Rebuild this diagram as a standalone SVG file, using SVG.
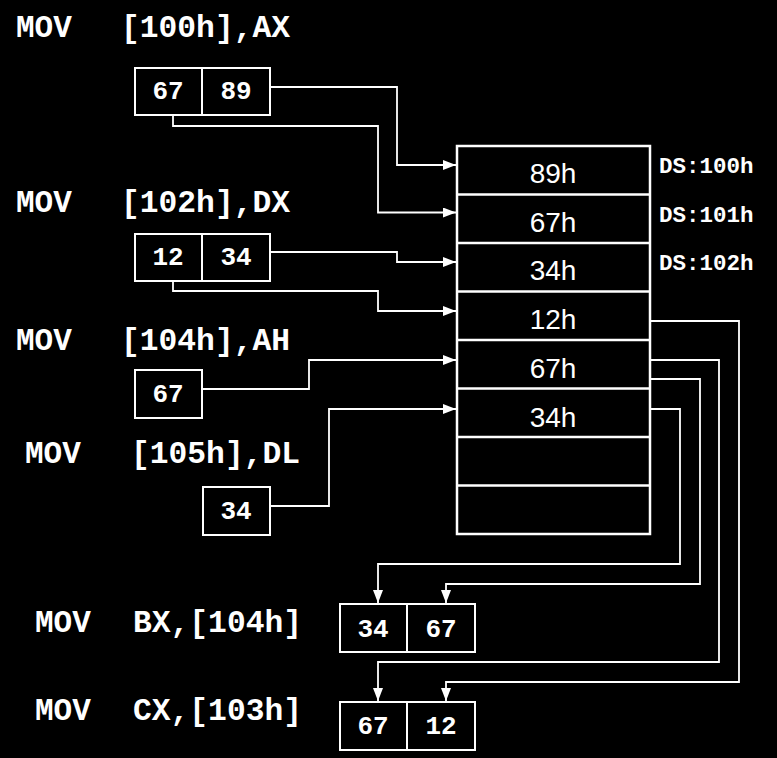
<svg xmlns="http://www.w3.org/2000/svg" width="777" height="758" viewBox="0 0 777 758">
<defs>
<style>
.ins{font-family:"Liberation Mono","Courier New",monospace;font-weight:bold;font-size:31px;fill:#fff}
.lbl{font-family:"Liberation Mono","Courier New",monospace;font-weight:bold;font-size:22.5px;fill:#fff}
.val{font-family:"Liberation Mono","Courier New",monospace;font-weight:bold;font-size:26px;fill:#fff;text-anchor:middle}
.mem{font-family:"Liberation Sans",Arial,sans-serif;font-size:28px;fill:#fff;text-anchor:middle}
.box{fill:none;stroke:#fff;stroke-width:2}
.memb{fill:none;stroke:#fff;stroke-width:2.5}
.con{fill:none;stroke:#fff;stroke-width:1.8}
</style>
<marker id="arr" viewBox="0 0 13 10" refX="13" refY="5" markerWidth="13" markerHeight="10" markerUnits="userSpaceOnUse" orient="auto">
<path d="M0,0 L13,5 L0,10 Z" fill="#fff"/>
</marker>
</defs>
<rect width="777" height="758" fill="#000"/>

<g id="instr1"><text class="ins" x="16" y="37">MOV</text><text class="ins" x="121" y="37" textLength="169" lengthAdjust="spacingAndGlyphs">[100h],AX</text></g>
<g id="instr2"><text class="ins" x="16" y="212">MOV</text><text class="ins" x="121" y="212" textLength="169" lengthAdjust="spacingAndGlyphs">[102h],DX</text></g>
<g id="instr3"><text class="ins" x="16" y="350">MOV</text><text class="ins" x="121" y="350" textLength="169" lengthAdjust="spacingAndGlyphs">[104h],AH</text></g>
<g id="instr4"><text class="ins" x="25" y="463">MOV</text><text class="ins" x="131" y="463" textLength="169" lengthAdjust="spacingAndGlyphs">[105h],DL</text></g>
<g id="instr5"><text class="ins" x="35" y="632">MOV</text><text class="ins" x="133" y="632" textLength="169" lengthAdjust="spacingAndGlyphs">BX,[104h]</text></g>
<g id="instr6"><text class="ins" x="35" y="720">MOV</text><text class="ins" x="133" y="720" textLength="169" lengthAdjust="spacingAndGlyphs">CX,[103h]</text></g>

<g id="regAX"><rect class="box" x="135" y="68" width="135" height="47"/><line class="box" x1="202" y1="68" x2="202" y2="115"/><text class="val" x="168" y="99">67</text><text class="val" x="236" y="99">89</text></g>
<g id="regDX"><rect class="box" x="135" y="234" width="135" height="47"/><line class="box" x1="202" y1="234" x2="202" y2="281"/><text class="val" x="168" y="265">12</text><text class="val" x="236" y="265">34</text></g>
<g id="regAH"><rect class="box" x="135" y="370" width="67" height="48"/><text class="val" x="168" y="402">67</text></g>
<g id="regDL"><rect class="box" x="203" y="487" width="67" height="48"/><text class="val" x="236" y="519">34</text></g>
<g id="regBX"><rect class="box" x="340" y="604" width="135" height="48"/><line class="box" x1="407" y1="604" x2="407" y2="652"/><text class="val" x="373" y="637">34</text><text class="val" x="441" y="637">67</text></g>
<g id="regCX"><rect class="box" x="340" y="702" width="135" height="48"/><line class="box" x1="407" y1="702" x2="407" y2="750"/><text class="val" x="373" y="734">67</text><text class="val" x="441" y="734">12</text></g>

<g id="memory">
<rect class="memb" x="457" y="146" width="193" height="388"/>
<line class="memb" x1="457" y1="194.5" x2="650" y2="194.5"/>
<line class="memb" x1="457" y1="243" x2="650" y2="243"/>
<line class="memb" x1="457" y1="291.5" x2="650" y2="291.5"/>
<line class="memb" x1="457" y1="340" x2="650" y2="340"/>
<line class="memb" x1="457" y1="388.5" x2="650" y2="388.5"/>
<line class="memb" x1="457" y1="437" x2="650" y2="437"/>
<line class="memb" x1="457" y1="485.5" x2="650" y2="485.5"/>
<text class="mem" x="553" y="183">89h</text>
<text class="mem" x="553" y="232">67h</text>
<text class="mem" x="553" y="280">34h</text>
<text class="mem" x="553" y="329">12h</text>
<text class="mem" x="553" y="378">67h</text>
<text class="mem" x="553" y="427">34h</text>
</g>
<g id="addr">
<text class="lbl" x="659" y="173">DS:100h</text>
<text class="lbl" x="659" y="222">DS:101h</text>
<text class="lbl" x="659" y="270">DS:102h</text>
</g>

<g id="connectors">
<polyline class="con" points="270,87 397,87 397,165 456,165" marker-end="url(#arr)"/>
<polyline class="con" points="173,115 173,126 378,126 378,212.5 456,212.5" marker-end="url(#arr)"/>
<polyline class="con" points="270,252 397,252 397,262 456,262" marker-end="url(#arr)"/>
<polyline class="con" points="173,281 173,291 378,291 378,311 456,311" marker-end="url(#arr)"/>
<polyline class="con" points="202,389 309,389 309,360 456,360" marker-end="url(#arr)"/>
<polyline class="con" points="270,506 329,506 329,409 456,409" marker-end="url(#arr)"/>
<polyline class="con" points="650,409 680,409 680,564 378,564 378,603" marker-end="url(#arr)"/>
<polyline class="con" points="650,379 700,379 700,584 446,584 446,603" marker-end="url(#arr)"/>
<polyline class="con" points="650,360 719,360 719,662 378,662 378,701" marker-end="url(#arr)"/>
<polyline class="con" points="650,321 739,321 739,682 446,682 446,701" marker-end="url(#arr)"/>
</g>
</svg>
